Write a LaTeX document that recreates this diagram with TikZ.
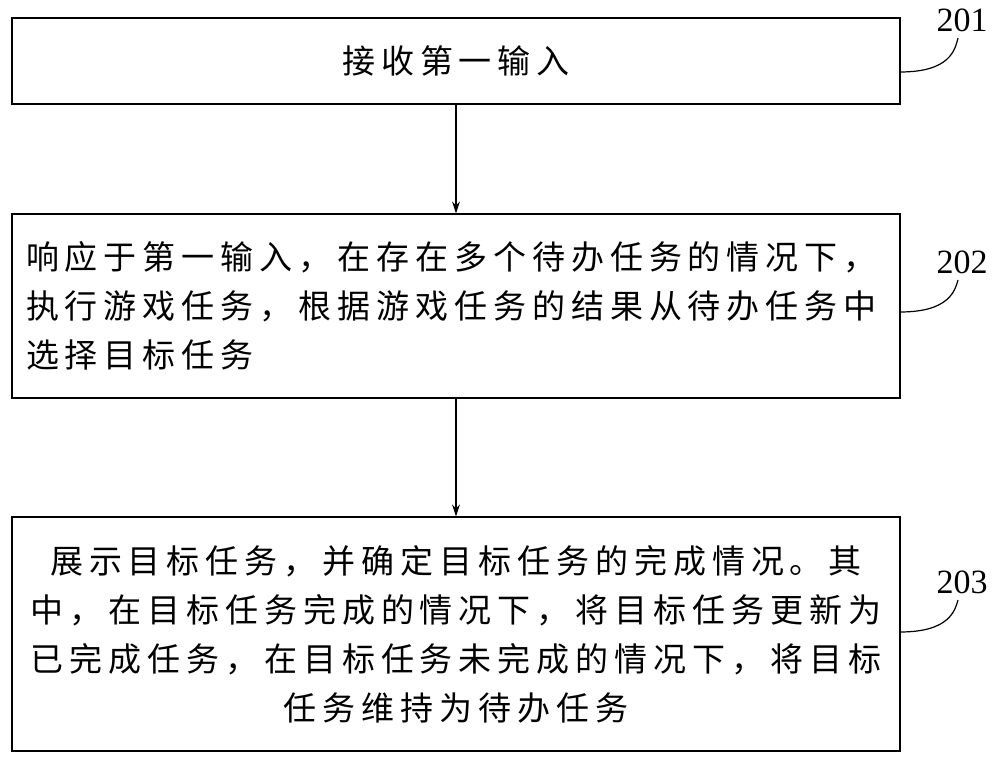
\documentclass[tikz,border=0pt]{standalone}
\usepackage{fontspec}
\usetikzlibrary{arrows.meta}
\newfontfamily\cjk[LetterSpace=18]{Noto Sans CJK SC}
\setmainfont{Liberation Serif}
\begin{document}
\begin{tikzpicture}[x=1pt,y=-1pt,
  stepbox/.style={draw,line width=1.2pt,minimum width=888pt,inner sep=0pt,font=\cjk\fontsize{33}{49}\selectfont},
  lbl/.style={font=\fontsize{34}{34}\selectfont},
  arr/.style={-{Stealth[length=12pt,width=8pt]},line width=1.2pt},
  crv/.style={line width=1.2pt}]
\useasboundingbox (0,0) rectangle (1000,759);
\node[stepbox,minimum height=86pt] (b1) at (456,61) {接收第一输入};
\node[stepbox,minimum height=184pt,text width=860pt,align=left] (b2) at (456,306) {响应于第一输入，在存在多个待办任务的情况下，\\执行游戏任务，根据游戏任务的结果从待办任务中\\选择目标任务};
\node[stepbox,minimum height=234pt,text width=860pt,align=center] (b3) at (456,634) {展示目标任务，并确定目标任务的完成情况。其\\中，在目标任务完成的情况下，将目标任务更新为\\已完成任务，在目标任务未完成的情况下，将目标\\任务维持为待办任务};
\draw[arr] (b1.south) -- (b2.north);
\draw[arr] (b2.south) -- (b3.north);
\node[lbl] (l1) at (962,20) {201};
\node[lbl] (l2) at (962,262) {202};
\node[lbl] (l3) at (962,582) {203};
\coordinate (c1) at (900,72);
\coordinate (c2) at (900,312);
\coordinate (c3) at (900,632);
\draw[crv] (c1) .. controls (950,72) and (955,50) .. (958,38);
\draw[crv] (c2) .. controls (950,312) and (955,290) .. (958,280);
\draw[crv] (c3) .. controls (950,632) and (955,610) .. (958,600);
\end{tikzpicture}
\end{document}
